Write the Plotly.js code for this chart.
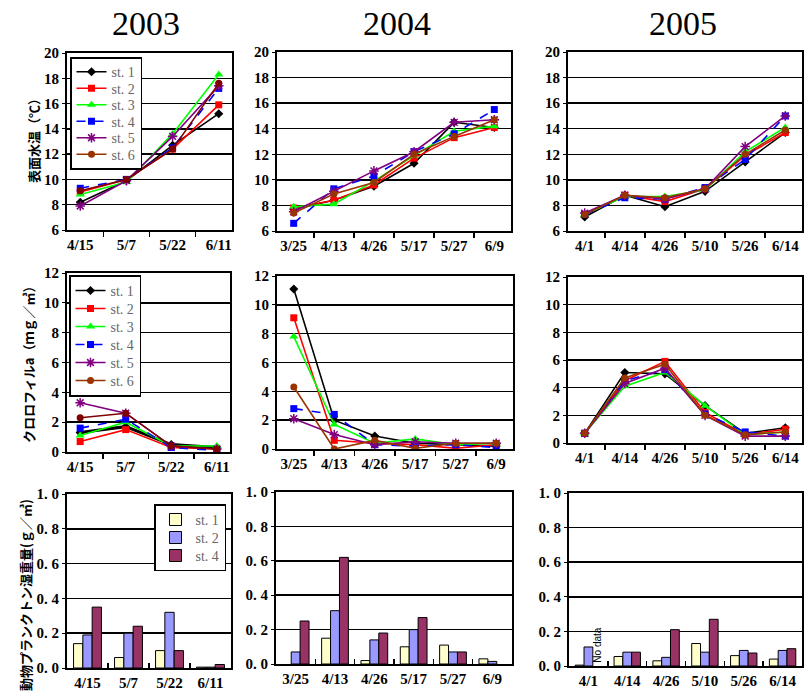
<!DOCTYPE html>
<html>
<head>
<meta charset="utf-8">
<script src="https://cdn.plot.ly/plotly-3.0.1.min.js"></script>
<style>
html,body{margin:0;padding:0;background:#fff;}
#chart{width:804px;height:693px;}
</style>
</head>
<body>
<div id="chart"></div>
<script>
// ---------------- DATA ----------------
const years = ['2003', '2004', '2005'];
const stations = ['st. 1', 'st. 2', 'st. 3', 'st. 4', 'st. 5', 'st. 6'];
const barStations = ['st. 1', 'st. 2', 'st. 4'];

const dates2003 = ['4/15', '5/7', '5/22', '6/11'];
const dates2004 = ['3/25', '4/13', '4/26', '5/17', '5/27', '6/9'];
const dates2005 = ['4/1', '4/14', '4/26', '5/10', '5/26', '6/14'];

// 表面水温 (℃)
const temp2003_st1 = [8.2, 9.9, 12.7, 15.2];
const temp2003_st2 = [9.0, 10.0, 12.4, 15.9];
const temp2003_st3 = [8.8, 9.8, 13.6, 18.3];
const temp2003_st4 = [9.3, 10.0, 12.5, 17.2];
const temp2003_st5 = [7.9, 9.9, 13.4, 17.4];
const temp2003_st6 = [9.1, 10.0, 12.4, 17.6];

const temp2004_st1 = [7.7, 8.4, 9.5, 11.3, 14.5, 14.1];
const temp2004_st2 = [7.8, 8.4, 9.6, 11.7, 13.3, 14.1];
const temp2004_st3 = [7.9, 8.1, 9.9, 11.9, 13.8, 14.2];
const temp2004_st4 = [6.6, 9.3, 10.3, 12.2, 13.6, 15.5];
const temp2004_st5 = [7.5, 9.1, 10.7, 12.2, 14.5, 14.7];
const temp2004_st6 = [7.4, 8.9, 9.8, 12.0, 13.4, 14.7];

const temp2005_st1 = [7.1, 8.8, 7.9, 9.1, 11.4, 13.7];
const temp2005_st2 = [7.3, 8.8, 8.3, 9.3, 11.9, 13.7];
const temp2005_st3 = [7.3, 8.7, 8.7, 9.2, 12.2, 14.1];
const temp2005_st4 = [7.3, 8.6, 8.5, 9.4, 11.6, 15.0];
const temp2005_st5 = [7.4, 8.8, 8.5, 9.3, 12.6, 15.0];
const temp2005_st6 = [7.3, 8.8, 8.6, 9.3, 12.0, 13.9];

// クロロフィルa (mg/m3)
const chl2003_st1 = [1.3, 1.7, 0.5, 0.3];
const chl2003_st2 = [0.7, 1.5, 0.3, 0.2];
const chl2003_st3 = [1.1, 2.0, 0.4, 0.4];
const chl2003_st4 = [1.6, 2.2, 0.3, 0.1];
const chl2003_st5 = [3.3, 2.6, 0.4, 0.2];
const chl2003_st6 = [2.3, 2.6, 0.4, 0.2];

const chl2004_st1 = [11.1, 2.0, 0.9, 0.4, 0.3, 0.2];
const chl2004_st2 = [9.1, 0.6, 0.4, 0.3, 0.05, 0.3];
const chl2004_st3 = [7.8, 1.7, 0.4, 0.7, 0.3, 0.4];
const chl2004_st4 = [2.8, 2.4, 0.3, 0.2, 0.3, 0.1];
const chl2004_st5 = [2.1, 1.0, 0.3, 0.5, 0.4, 0.4];
const chl2004_st6 = [4.3, 0.0, 0.6, 0.05, 0.4, 0.4];

const chl2005_st1 = [0.7, 5.1, 5.0, 2.7, 0.7, 1.1];
const chl2005_st2 = [0.7, 4.5, 5.9, 2.2, 0.6, 1.0];
const chl2005_st3 = [0.7, 4.1, 5.1, 2.7, 0.6, 0.8];
const chl2005_st4 = [0.7, 4.5, 5.3, 2.1, 0.8, 0.5];
const chl2005_st5 = [0.7, 4.3, 5.4, 2.0, 0.5, 0.5];
const chl2005_st6 = [0.7, 4.7, 5.7, 2.0, 0.6, 0.8];

// 動物プランクトン湿重量 (g/m3)
const zoo2003_st1 = [0.14, 0.06, 0.10, 0.005];
const zoo2003_st2 = [0.19, 0.20, 0.32, 0.005];
const zoo2003_st4 = [0.35, 0.24, 0.10, 0.02];

const zoo2004_st1 = [null, 0.15, 0.02, 0.10, 0.11, 0.03];
const zoo2004_st2 = [0.07, 0.31, 0.14, 0.20, 0.07, 0.015];
const zoo2004_st4 = [0.25, 0.62, 0.18, 0.27, 0.07, null];

const zoo2005_st1 = [0.005, 0.055, 0.03, 0.13, 0.06, 0.04];
const zoo2005_st2 = [0.11, 0.08, 0.05, 0.08, 0.09, 0.09];
const zoo2005_st4 = [null, 0.08, 0.21, 0.27, 0.075, 0.10];

const tempTicks = [6, 8, 10, 12, 14, 16, 18, 20];
const chlTicks = [0, 2, 4, 6, 8, 10, 12];
const zooTickVals = [0, 0.2, 0.4, 0.6, 0.8, 1.0];
const zooTickText = ['0. 0', '0. 2', '0. 4', '0. 6', '0. 8', '1. 0'];

const yTitleTemp = '表面水温（℃）';
const yTitleChl = 'クロロフィルa（ｍｇ／㎥）';
const yTitleZoo = '動物プランクトン湿重量(ｇ／㎥)';
const noDataLabel = 'No data';

// ---------------- STRUCTURE ----------------
const dates = [dates2003, dates2004, dates2005];
const temps = [
  [temp2003_st1, temp2003_st2, temp2003_st3, temp2003_st4, temp2003_st5, temp2003_st6],
  [temp2004_st1, temp2004_st2, temp2004_st3, temp2004_st4, temp2004_st5, temp2004_st6],
  [temp2005_st1, temp2005_st2, temp2005_st3, temp2005_st4, temp2005_st5, temp2005_st6]
];
const chls = [
  [chl2003_st1, chl2003_st2, chl2003_st3, chl2003_st4, chl2003_st5, chl2003_st6],
  [chl2004_st1, chl2004_st2, chl2004_st3, chl2004_st4, chl2004_st5, chl2004_st6],
  [chl2005_st1, chl2005_st2, chl2005_st3, chl2005_st4, chl2005_st5, chl2005_st6]
];
const zoos = [
  [zoo2003_st1, zoo2003_st2, zoo2003_st4],
  [zoo2004_st1, zoo2004_st2, zoo2004_st4],
  [zoo2005_st1, zoo2005_st2, zoo2005_st4]
];

// ---------------- STYLE ----------------
const W = 804, H = 693;
const lineStyles = [
  {color: '#000000', symbol: 'diamond', size: 7, dash: 'solid'},
  {color: '#FF0000', symbol: 'square', size: 7, dash: 'solid'},
  {color: '#00FF00', symbol: 'triangle-up', size: 8, dash: 'solid'},
  {color: '#0000FF', symbol: 'square', size: 7, dash: 'dash'},
  {color: '#800080', symbol: 'asterisk-open', size: 8, dash: 'solid'},
  {color: '#993300', symbol: 'circle', size: 7, dash: 'solid'}
];
const barColors = ['#FFFFCC', '#9999FF', '#993366'];

// panel pixel boxes [left,right] x [top,bottom]
const boxes = [
  {x: [67, 232], y: [53, 230]}, {x: [277, 511], y: [52, 231]}, {x: [568, 802], y: [52, 231]},
  {x: [67, 230], y: [273, 452]}, {x: [277, 513], y: [276, 449]}, {x: [568, 802], y: [277, 443]},
  {x: [67, 231], y: [494, 668]}, {x: [276, 512], y: [492, 664]}, {x: [569, 802], y: [493, 666]}
];

const serif = 'Liberation Serif';
const tickFont = {family: serif, size: 15, color: '#000', weight: 'bold'};

const traces = [];
const layout = {
  width: W, height: H,
  margin: {l: 0, r: 0, t: 0, b: 0},
  paper_bgcolor: '#fff', plot_bgcolor: '#fff',
  showlegend: true,
  barmode: 'group', bargap: 0.32, bargroupgap: 0,
  annotations: [],
  font: {family: serif}
};

function axisId(i) { return i === 0 ? '' : String(i + 1); }

for (let r = 0; r < 3; r++) {
  for (let c = 0; c < 3; c++) {
    const i = r * 3 + c;
    const id = axisId(i);
    const b = boxes[i];
    const xa = {
      domain: [b.x[0] / W, b.x[1] / W],
      anchor: 'y' + id,
      type: 'category',
      categoryorder: 'array', categoryarray: dates[c],
      tickson: 'boundaries',
      ticks: r === 2 ? 'inside' : 'outside',
      ticklen: 5, tickwidth: 1.5, tickcolor: '#000',
      showline: true, linecolor: '#000', linewidth: 2, mirror: true,
      showgrid: false, zeroline: false,
      tickfont: tickFont, fixedrange: true
    };
    const ya = {
      domain: [1 - b.y[1] / H, 1 - b.y[0] / H],
      anchor: 'x' + id,
      showline: true, linecolor: '#000', linewidth: 2, mirror: true,
      showgrid: true, gridcolor: '#000', gridwidth: 1.5,
      zeroline: false,
      ticks: 'outside', ticklen: 3, tickcolor: '#000',
      tickfont: tickFont, fixedrange: true
    };
    if (r === 0) { ya.range = [6, 20]; ya.tickvals = tempTicks; }
    if (r === 1) { ya.range = [0, 12]; ya.tickvals = chlTicks; }
    if (r === 2) { ya.range = [0, 1]; ya.tickvals = zooTickVals; ya.ticktext = zooTickText; }
    layout['xaxis' + id] = xa;
    layout['yaxis' + id] = ya;

    if (r < 2) {
      const dataSet = r === 0 ? temps[c] : chls[c];
      for (let s = 0; s < 6; s++) {
        const st = lineStyles[s];
        let col = st.color;
        if (c === 0 && s === 5) col = '#800000';
        traces.push({
          type: 'scatter', mode: 'lines+markers',
          x: dates[c], y: dataSet[s],
          name: stations[s],
          xaxis: 'x' + id, yaxis: 'y' + id,
          line: {color: col, width: (r === 1 && c === 0 && s === 0) ? 3 : 1.6, dash: st.dash},
          marker: {color: col, symbol: st.symbol, size: st.size, line: {color: col, width: st.symbol === 'asterisk-open' ? 1.5 : 0}},
          showlegend: c === 1,
          legend: r === 0 ? 'legend' : 'legend2',
          hoverinfo: 'skip'
        });
      }
    } else {
      for (let s = 0; s < 3; s++) {
        traces.push({
          type: 'bar',
          x: dates[c], y: zoos[c][s],
          name: barStations[s],
          xaxis: 'x' + id, yaxis: 'y' + id,
          marker: {color: barColors[s], line: {color: '#000', width: 1}},
          showlegend: c === 0,
          legend: 'legend3',
          hoverinfo: 'skip'
        });
      }
    }
  }
}

const legendFont = {family: serif, size: 14, color: '#666'};
const legendBase = {
  bgcolor: '#fff', bordercolor: '#000', borderwidth: 1.5,
  xanchor: 'left', yanchor: 'top', font: legendFont,
  traceorder: 'normal', tracegroupgap: 0, itemwidth: 30,
  itemclick: false, itemdoubleclick: false
};
layout.legend = Object.assign({}, legendBase, {x: 70 / W, y: 1 - 57 / H});
layout.legend2 = Object.assign({}, legendBase, {x: 69 / W, y: 1 - 275 / H});
layout.legend3 = Object.assign({}, legendBase, {x: 226 / W, y: 1 - 504 / H, xanchor: 'right'});

// Year titles
const yearCenters = [146, 397, 683];
years.forEach((yr, k) => {
  layout.annotations.push({
    text: yr, xref: 'paper', yref: 'paper',
    x: yearCenters[k] / W, y: 1 - 23 / H,
    xanchor: 'center', yanchor: 'middle', showarrow: false,
    font: {family: serif, size: 34, color: '#000'}
  });
});

// Y axis titles
const jp = 'Noto Sans CJK JP';
[[yTitleTemp, 33, 138], [yTitleChl, 28, 362], [yTitleZoo, 25, 595]].forEach(t => {
  layout.annotations.push({
    text: t[0], xref: 'paper', yref: 'paper',
    x: t[1] / W, y: 1 - t[2] / H, textangle: -90,
    xanchor: 'center', yanchor: 'middle', showarrow: false,
    font: {family: jp, size: 13, color: '#000', weight: 'bold'}
  });
});

// No data label on 2005 zooplankton, first date, st.4 position
layout.annotations.push({
  text: noDataLabel, xref: 'x9', yref: 'y9',
  x: dates2005[0], y: 0.12, xshift: 9, textangle: -90,
  xanchor: 'center', yanchor: 'middle', showarrow: false,
  font: {family: 'Liberation Sans', size: 10, color: '#000'}
});

// compact the legend rows (Plotly's minimum row height is taller than the original's)
function compactLegend(id, step) {
  const g = document.querySelector('#chart .infolayer g.' + id);
  if (!g) return;
  const items = g.querySelectorAll('g.traces');
  if (!items.length) return;
  const pos = [];
  items.forEach(el => {
    const m = /translate\(\s*([-\d.]+)[ ,]+([-\d.]+)\s*\)/.exec(el.getAttribute('transform') || '');
    pos.push(m ? [parseFloat(m[1]), parseFloat(m[2])] : [0, 0]);
  });
  const orig = items.length > 1 ? (pos[items.length - 1][1] - pos[0][1]) / (items.length - 1) : step;
  const y0 = pos[0][1] - (orig - step) / 2;
  items.forEach((el, k) => {
    el.setAttribute('transform', 'translate(' + pos[k][0] + ',' + (y0 + k * step) + ')');
  });
  const shrink = items.length * (orig - step);
  const bg = g.querySelector('rect.bg');
  if (bg) bg.setAttribute('height', parseFloat(bg.getAttribute('height')) - shrink);
}

Plotly.newPlot('chart', traces, layout, {staticPlot: true, displayModeBar: false}).then(() => {
  compactLegend('legend', 16.5);
  compactLegend('legend2', 18);
  compactLegend('legend3', 18);
});
</script>
</body>
</html>
